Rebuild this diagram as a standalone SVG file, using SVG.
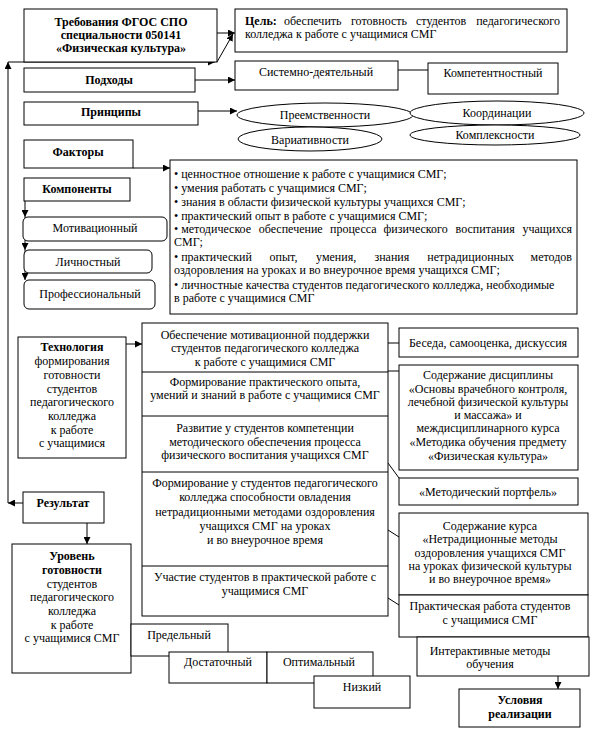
<svg xmlns="http://www.w3.org/2000/svg" width="595" height="732" viewBox="0 0 595 732" font-family="'Liberation Serif', 'Times New Roman', serif">
<style>
.b{fill:#fff;stroke:#000;stroke-width:1}
.l{fill:none;stroke:#000;stroke-width:1}
text{font-family:'Liberation Serif','Times New Roman',serif;font-size:12px;fill:#000;dominant-baseline:central}
.c{text-anchor:middle}
.e{text-anchor:end}
.bd{font-weight:bold}
</style>
<defs>
<marker id="ar" viewBox="0 0 10 10" refX="10" refY="5" markerWidth="7" markerHeight="7" orient="auto" markerUnits="userSpaceOnUse">
<path d="M0,0 L10,5 L0,10 z" fill="#000"/>
</marker>
</defs>
<rect width="595" height="732" fill="#fff"/>

<g id="connectors">
<path class="l" d="M23,503 H8" marker-end="url(#ar)"/>
<path class="l" d="M8,503 V62" marker-end="url(#ar)"/>
<path class="l" d="M8,62 H215" marker-end="url(#ar)"/>
<path class="l" d="M217,62 L233,34" marker-end="url(#ar)"/>
<path class="l" d="M217,33 H235" marker-end="url(#ar)"/>
<path class="l" d="M195,80 H235" marker-end="url(#ar)"/>
<path class="l" d="M398,70 H428"/>
<path class="l" d="M198,111 H237" marker-end="url(#ar)"/>
<path class="l" d="M133,168 H170" marker-end="url(#ar)"/>
<path class="l" d="M25,201 V217" marker-end="url(#ar)"/>
<path class="l" d="M25,217 V250" marker-end="url(#ar)"/>
<path class="l" d="M25,250 V280" marker-end="url(#ar)"/>
<path class="l" d="M126,344 H142" marker-end="url(#ar)"/>
<path class="l" d="M388,343 H399"/>
<path class="l" d="M388,371 H399"/>
<path class="l" d="M388,463 L399,478"/>
<path class="l" d="M388,530 L399,537"/>
<path class="l" d="M388,598 L399,605"/>
<path class="l" d="M558,676 V689" marker-end="url(#ar)"/>
<path class="l" d="M87,523 V544" marker-end="url(#ar)"/>
</g>

<g id="req">
<rect class="b" x="24" y="9" width="193" height="53"/>
<text class="c bd" x="121" y="22">Требования ФГОС СПО</text>
<text class="c bd" x="121" y="35">специальности 050141</text>
<text class="c bd" x="121" y="48">«Физическая культура»</text>
</g>

<g id="goal">
<rect class="b" x="235" y="9" width="332" height="43"/>
<text class="bd" x="245" y="21">Цель:</text>
<text x="284" y="21">обеспечить</text>
<text x="351" y="21">готовность</text>
<text x="416" y="21">студентов</text>
<text class="e" x="560" y="21">педагогического</text>
<text x="245" y="34">колледжа к работе с учащимися СМГ</text>
</g>

<g id="approaches">
<rect class="b" x="24" y="68" width="171" height="24"/>
<text class="c bd" x="109" y="80">Подходы</text>
</g>
<g id="system">
<rect class="b" x="235" y="61" width="163" height="29"/>
<text class="c" x="316" y="72">Системно-деятельный</text>
</g>
<g id="competence">
<rect class="b" x="428" y="63" width="130" height="31"/>
<text class="c" x="493" y="73">Компетентностный</text>
</g>

<g id="principles">
<rect class="b" x="24" y="102" width="174" height="23"/>
<text class="c bd" x="111" y="112">Принципы</text>
</g>
<g id="p1">
<ellipse class="b" cx="325" cy="115" rx="88" ry="12"/>
<text class="c" x="325" y="115">Преемственности</text>
</g>
<g id="p2">
<ellipse class="b" cx="497" cy="113" rx="87" ry="12"/>
<text class="c" x="497" y="113">Координации</text>
</g>
<g id="p3">
<ellipse class="b" cx="495" cy="135" rx="85" ry="10"/>
<text class="c" x="495" y="135">Комплексности</text>
</g>
<g id="p4">
<ellipse class="b" cx="310" cy="139" rx="72" ry="12"/>
<text class="c" x="310" y="140">Вариативности</text>
</g>

<g id="factors">
<rect class="b" x="24" y="140" width="109" height="28"/>
<text class="c bd" x="78" y="152">Факторы</text>
</g>

<g id="factorlist">
<rect class="b" x="170" y="160" width="407" height="154"/>
<text x="174" y="174">• ценностное отношение к работе с учащимися СМГ;</text>
<text x="174" y="188">• умения работать с учащимися СМГ;</text>
<text x="174" y="202">• знания в области физической культуры учащихся СМГ;</text>
<text x="174" y="216">• практический опыт в работе с учащимися СМГ;</text>
<text x="174" y="229">• методическое</text>
<text x="258.8" y="229">обеспечение</text>
<text x="330" y="229">процесса</text>
<text x="383.5" y="229">физического</text>
<text x="455.6" y="229">воспитания</text>
<text class="e" x="572" y="229">учащихся</text>
<text x="174" y="242">СМГ;</text>
<text x="174" y="257">• практический</text>
<text x="269.6" y="257">опыт,</text>
<text x="316.1" y="257">умения,</text>
<text x="374.4" y="257">знания</text>
<text x="427.3" y="257">нетрадиционных</text>
<text class="e" x="572" y="257">методов</text>
<text x="174" y="270">оздоровления на уроках и во внеурочное время учащихся СМГ;</text>
<text x="174" y="285">• личностные качества студентов педагогического колледжа, необходимые</text>
<text x="174" y="298"> в работе с учащимися СМГ</text>
</g>

<g id="components">
<rect class="b" x="24" y="178" width="106" height="23"/>
<text class="c bd" x="77" y="189">Компоненты</text>
</g>
<g id="motiv">
<rect class="b" x="23" y="217" width="144" height="24" rx="5"/>
<text class="c" x="95" y="228">Мотивационный</text>
</g>
<g id="personal">
<rect class="b" x="24" y="250" width="128" height="23" rx="5"/>
<text class="c" x="88" y="262">Личностный</text>
</g>
<g id="prof">
<rect class="b" x="24" y="280" width="131" height="29" rx="5"/>
<text class="c" x="90" y="294">Профессиональный</text>
</g>

<g id="tech">
<rect class="b" x="18" y="337" width="108" height="121"/>
<text class="c bd" x="72" y="347">Технология</text>
<text class="c" x="72" y="361">формирования</text>
<text class="c" x="72" y="375">готовности</text>
<text class="c" x="72" y="389">студентов</text>
<text class="c" x="72" y="402">педагогического</text>
<text class="c" x="72" y="416">колледжа</text>
<text class="c" x="72" y="430">к работе</text>
<text class="c" x="72" y="443">с учащимися</text>
</g>

<g id="stages">
<rect class="b" x="142" y="323" width="246" height="293"/>
<path class="l" d="M142,372 H388 M142,416 H388 M142,472 H388 M142,566 H388"/>
<text class="c" x="265" y="335">Обеспечение мотивационной поддержки</text>
<text class="c" x="265" y="348">студентов педагогического колледжа</text>
<text class="c" x="265" y="362">к работе с учащимися СМГ</text>
<text class="c" x="265" y="382">Формирование практического опыта,</text>
<text class="c" x="265" y="395">умений и знаний в работе с учащимися СМГ</text>
<text class="c" x="265" y="428">Развитие у студентов компетенции</text>
<text class="c" x="265" y="442">методического обеспечения процесса</text>
<text class="c" x="265" y="455">физического воспитания учащихся СМГ</text>
<text class="c" x="265" y="483">Формирование у студентов педагогического</text>
<text class="c" x="265" y="497">колледжа способности овладения</text>
<text class="c" x="265" y="512">нетрадиционными методами оздоровления</text>
<text class="c" x="265" y="526">учащихся СМГ на уроках</text>
<text class="c" x="265" y="540">и во внеурочное время</text>
<text class="c" x="265" y="577">Участие студентов в практической работе с</text>
<text class="c" x="265" y="591">учащимися СМГ</text>
</g>

<g id="talk">
<rect class="b" x="399" y="328" width="179" height="29"/>
<text class="c" x="488" y="343">Беседа, самооценка, дискуссия</text>
</g>
<g id="discipline">
<rect class="b" x="399" y="365" width="179" height="105"/>
<text class="c" x="488" y="375">Содержание дисциплины</text>
<text class="c" x="488" y="389">«Основы врачебного контроля,</text>
<text class="c" x="488" y="402">лечебной физической культуры</text>
<text class="c" x="488" y="415">и массажа» и</text>
<text class="c" x="488" y="428">междисциплинарного курса</text>
<text class="c" x="488" y="442">«Методика обучения предмету</text>
<text class="c" x="488" y="456">«Физическая культура»</text>
</g>
<g id="portfolio">
<rect class="b" x="399" y="478" width="179" height="27"/>
<text class="c" x="488" y="492">«Методический портфель»</text>
</g>
<g id="course">
<rect class="b" x="399" y="513" width="189" height="82"/>
<text class="c" x="490" y="526">Содержание курса</text>
<text class="c" x="490" y="539">«Нетрадиционные методы</text>
<text class="c" x="490" y="553">оздоровления учащихся СМГ</text>
<text class="c" x="490" y="566">на уроках физической культуры</text>
<text class="c" x="490" y="579">и во внеурочное время»</text>
</g>
<g id="practice">
<rect class="b" x="399" y="595" width="189" height="42"/>
<text class="c" x="490" y="606">Практическая работа студентов</text>
<text class="c" x="490" y="620">с учащимися СМГ</text>
</g>
<g id="interactive">
<rect class="b" x="417" y="637" width="172" height="39"/>
<text class="c" x="490" y="651">Интерактивные методы</text>
<text class="c" x="490" y="664">обучения</text>
</g>
<g id="conditions">
<rect class="b" x="459" y="689" width="121" height="38"/>
<text class="c bd" x="520" y="700">Условия</text>
<text class="c bd" x="520" y="714">реализации</text>
</g>

<g id="result">
<rect class="b" x="23" y="492" width="81" height="31"/>
<text class="c bd" x="63" y="503">Результат</text>
</g>
<g id="level">
<rect class="b" x="12" y="544" width="119" height="129"/>
<text class="c bd" x="72" y="556">Уровень</text>
<text class="c bd" x="72" y="570">готовности</text>
<text class="c" x="72" y="584">студентов</text>
<text class="c" x="72" y="597">педагогического</text>
<text class="c" x="72" y="611">колледжа</text>
<text class="c" x="72" y="625">к работе</text>
<text class="c" x="72" y="638">с учащимися СМГ</text>
</g>
<g id="limit">
<rect class="b" x="131" y="624" width="97" height="32"/>
<text class="c" x="179" y="635">Предельный</text>
</g>
<g id="sufficient">
<rect class="b" x="169" y="652" width="98" height="31"/>
<text class="c" x="218" y="662">Достаточный</text>
</g>
<g id="optimal">
<rect class="b" x="267" y="652" width="106" height="31"/>
<text class="c" x="319" y="662">Оптимальный</text>
</g>
<g id="low">
<rect class="b" x="314" y="676" width="96" height="32"/>
<text class="c" x="362" y="687">Низкий</text>
</g>
</svg>
